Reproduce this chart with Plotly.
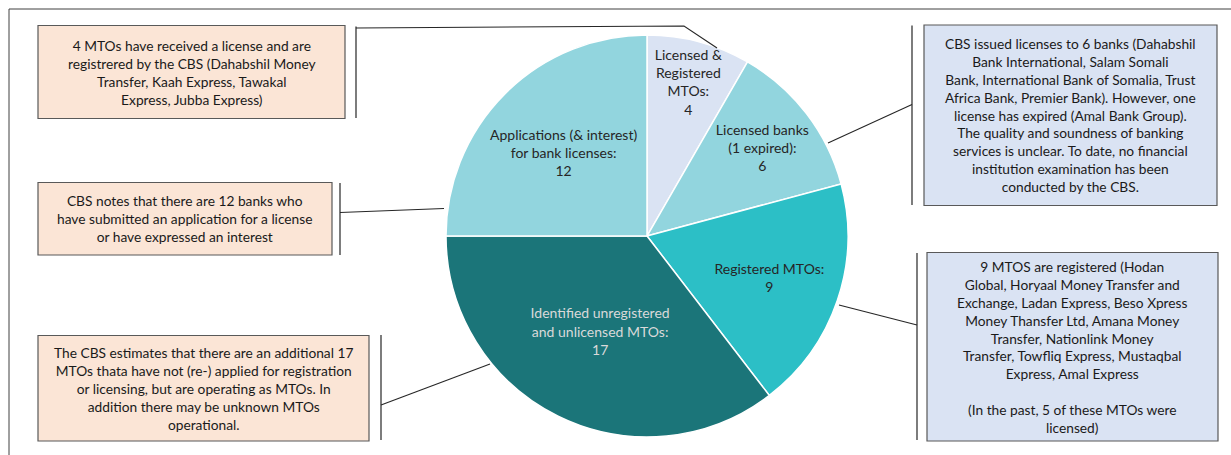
import plotly.graph_objects as go

W, H = 1231, 455

# ---- data ----
labels = ["Licensed & Registered MTOs", "Licensed banks (1 expired)", "Registered MTOs",
          "Identified unregistered and unlicensed MTOs", "Applications (& interest) for bank licenses"]
display = ["Licensed &<br>Registered<br>MTOs", "Licensed banks<br>(1 expired)", "Registered MTOs",
           "Identified unregistered<br>and unlicensed MTOs", "Applications (& interest)<br>for bank licenses"]
values = [4, 6, 9, 17, 12]
colors = ["#DAE3F3", "#92D5DE", "#2CBFC6", "#1B7579", "#92D5DE"]
text_colors = ["#262626", "#262626", "#262626", "#D9D9D9", "#262626"]

notes = [
    "4 MTOs have received a license and are<br>registrered by the CBS (Dahabshil Money<br>Transfer, Kaah Express, Tawakal<br>Express, Jubba Express)",
    "CBS notes that there are 12 banks who<br>have submitted an application for a license<br>or have expressed an interest",
    "The CBS estimates that there are an additional 17<br>MTOs thata have not (re-) applied for registration<br>or licensing, but are operating as MTOs. In<br>addition there may be unknown MTOs<br>operational.",
    "CBS issued licenses to 6 banks (Dahabshil<br>Bank International, Salam Somali<br>Bank, International Bank of Somalia, Trust<br>Africa Bank, Premier Bank). However, one<br>license has expired (Amal Bank Group).<br>The quality and soundness of banking<br>services is unclear. To date, no financial<br>institution examination has been<br>conducted by the CBS.",
    "9 MTOS are registered (Hodan<br>Global, Horyaal Money Transfer and<br>Exchange, Ladan Express, Beso Xpress<br>Money Thansfer Ltd, Amana Money<br>Transfer, Nationlink Money<br>Transfer, Towfliq Express, Mustaqbal<br>Express, Amal Express<br><br>(In the past, 5 of these MTOs were<br>licensed)",
]
note_fill = ["#FBE5D6", "#FBE5D6", "#FBE5D6", "#DAE3F3", "#DAE3F3"]

# ---- layout helpers (pixel -> paper) ----
def px(x):
    return x / W

def py(y):
    return 1 - y / H

FONT = "Lato, Open Sans, sans-serif"

cx, cy, R = 647, 236, 201

fig = go.Figure(go.Pie(
    labels=labels,
    values=values,
    text=display,
    texttemplate="%{text}:<br>%{value}",
    textinfo="text",
    textposition="inside",
    insidetextorientation="horizontal",
    sort=False,
    direction="clockwise",
    rotation=0,
    marker=dict(colors=colors, line=dict(color="white", width=1.5)),
    textfont=dict(family=FONT, size=14, color=text_colors),
    hoverinfo="label+value",
    showlegend=False,
    domain=dict(x=[px(cx - R), px(cx + R)], y=[py(cy + R), py(cy - R)]),
))

shapes = []
annotations = []

# outer frame (top and left edges visible)
shapes.append(dict(type="line", xref="paper", yref="paper", x0=px(9), y0=py(9), x1=1.01, y1=py(9),
                   line=dict(color="#404040", width=1)))
shapes.append(dict(type="line", xref="paper", yref="paper", x0=px(9), y0=py(9), x1=px(9), y1=-0.01,
                   line=dict(color="#404040", width=1)))

# boxes: (x0, y0, x1, y1) in px
boxes = [
    (38, 25.5, 345, 118.5),
    (38, 182.5, 332, 255),
    (38, 335.5, 369, 441),
    (924, 25, 1217, 205.5),
    (927, 252.5, 1218, 441),
]
for (x0, y0, x1, y1), fill, txt in zip(boxes, note_fill, notes):
    shapes.append(dict(type="rect", xref="paper", yref="paper",
                       x0=px(x0), y0=py(y1), x1=px(x1), y1=py(y0),
                       fillcolor=fill, line=dict(color="#595959", width=1.2), layer="below"))
    annotations.append(dict(xref="paper", yref="paper", x=px((x0 + x1) / 2), y=py((y0 + y1) / 2),
                            text=txt, showarrow=False, xanchor="center", yanchor="middle",
                            align="center", font=dict(family=FONT, size=13.75, color="#1a1a1a")))

# connector brackets and leader lines (px polylines)
brackets = [
    (356, 26.5, 118),
    (340, 183, 255),
    (381, 335, 440),
    (912, 25.5, 205),
    (917, 253, 440),
]
for x, y0, y1 in brackets:
    shapes.append(dict(type="line", xref="paper", yref="paper", x0=px(x), y0=py(y0), x1=px(x), y1=py(y1),
                       line=dict(color="#262626", width=1.2)))

leaders = [
    [(356, 28), (684, 26), (717, 48)],
    [(340, 212.5), (444, 208.5)],
    [(381, 405), (490, 364)],
    [(912, 104.5), (828, 143)],
    [(917, 325), (839, 305)],
]
for pts in leaders:
    path = "M " + " L ".join(f"{px(x)},{py(y)}" for x, y in pts)
    shapes.append(dict(type="path", xref="paper", yref="paper", path=path,
                       line=dict(color="#262626", width=1.1)))

fig.update_layout(
    width=W, height=H, autosize=False,
    margin=dict(l=0, r=0, t=0, b=0),
    paper_bgcolor="white", plot_bgcolor="white",
    shapes=shapes, annotations=annotations,
    uniformtext=dict(minsize=14, mode="show"),
)

fig.write_html("out.html", config={"displayModeBar": False},
               post_script="document.body.style.margin='0px';document.body.style.overflow='hidden';")
